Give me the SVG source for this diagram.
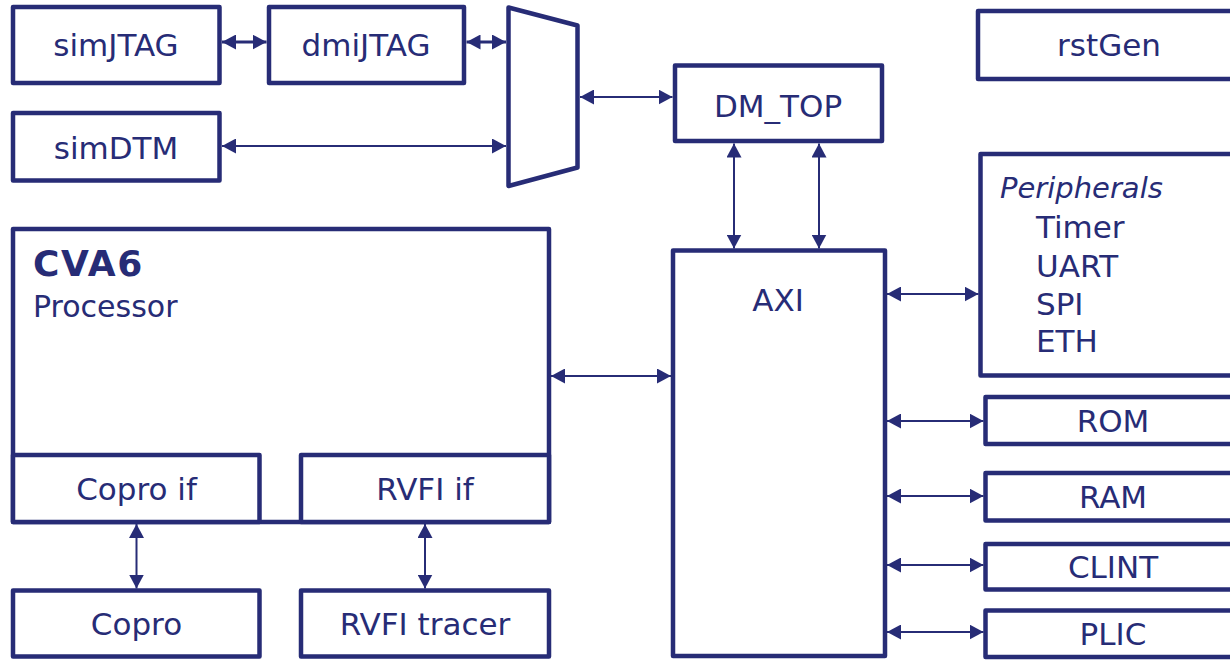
<svg xmlns="http://www.w3.org/2000/svg" width="1230" height="662" viewBox="0 0 1230 662">
<style>
.box{fill:#fff;stroke:#272c76;stroke-width:4.5;stroke-linejoin:round}
.lbl{font-family:"DejaVu Sans","Liberation Sans",sans-serif;font-size:31px;fill:#272c76;text-anchor:middle}
.lft{font-family:"DejaVu Sans","Liberation Sans",sans-serif;font-size:30px;fill:#272c76}
.ln{stroke:#272c76;stroke-width:2;fill:none;marker-start:url(#ah);marker-end:url(#ah)}
.thick{stroke-width:3}
</style>
<defs>
<marker id="ah" viewBox="0 0 14 15" refX="14" refY="7.5" markerWidth="14" markerHeight="15" markerUnits="userSpaceOnUse" orient="auto-start-reverse">
<path d="M0,0 L14,7.5 L0,15 z" fill="#272c76"/>
</marker>
</defs>
<rect width="1230" height="662" fill="#fff"/>
<g id="connectors">
<line class="ln thick" x1="222" y1="42" x2="266.5" y2="42"/>
<line class="ln thick" x1="466.5" y1="42" x2="506" y2="42"/>
<line class="ln" x1="222" y1="146" x2="506" y2="146"/>
<line class="ln" x1="580" y1="97" x2="672.5" y2="97"/>
<line class="ln" x1="734" y1="143.5" x2="734" y2="248.5"/>
<line class="ln" x1="819" y1="143.5" x2="819" y2="248.5"/>
<line class="ln" x1="551" y1="376" x2="671" y2="376"/>
<line class="ln" x1="136.5" y1="524" x2="136.5" y2="588.5"/>
<line class="ln" x1="425" y1="524" x2="425" y2="588.5"/>
<line class="ln" x1="887" y1="294" x2="978.5" y2="294"/>
<line class="ln" x1="887" y1="421" x2="983.5" y2="421"/>
<line class="ln" x1="887" y1="496" x2="983.5" y2="496"/>
<line class="ln" x1="887" y1="565" x2="983.5" y2="565"/>
<line class="ln" x1="887" y1="632" x2="983.5" y2="632"/>
</g>
<g id="simJTAG"><rect class="box" x="13" y="7" width="206.5" height="76"/><text class="lbl" x="116" y="56">simJTAG</text></g>
<g id="dmiJTAG"><rect class="box" x="269" y="7" width="195" height="76"/><text class="lbl" x="366" y="56">dmiJTAG</text></g>
<g id="simDTM"><rect class="box" x="13" y="113" width="206.5" height="67.5"/><text class="lbl" x="116" y="159">simDTM</text></g>
<g id="mux"><polygon class="box" points="508.5,7.5 577.5,25.5 577.5,167.5 508.5,186"/></g>
<g id="DM_TOP"><rect class="box" x="675" y="65.5" width="207" height="75.5"/><text class="lbl" x="778" y="117">DM_TOP</text></g>
<g id="rstGen"><rect class="box" x="978" y="11" width="270" height="68"/><text class="lbl" x="1109" y="56">rstGen</text></g>
<g id="Peripherals"><rect class="box" x="980.5" y="154" width="270" height="221.5"/>
<text class="lft" x="1000" y="198" style="font-size:29px;font-style:italic">Peripherals</text>
<text class="lft" x="1036" y="238" style="font-size:31px">Timer</text>
<text class="lft" x="1036" y="277" style="font-size:31px">UART</text>
<text class="lft" x="1036" y="315" style="font-size:31px">SPI</text>
<text class="lft" x="1036" y="352" style="font-size:31px">ETH</text>
</g>
<g id="AXI"><rect class="box" x="673" y="250.5" width="212" height="405.5"/><text class="lbl" x="778" y="311">AXI</text></g>
<g id="ROM"><rect class="box" x="985.5" y="397" width="260" height="47"/><text class="lbl" x="1113" y="432">ROM</text></g>
<g id="RAM"><rect class="box" x="985.5" y="473" width="260" height="47.5"/><text class="lbl" x="1113" y="508">RAM</text></g>
<g id="CLINT"><rect class="box" x="985.5" y="544" width="260" height="45.5"/><text class="lbl" x="1113" y="578">CLINT</text></g>
<g id="PLIC"><rect class="box" x="985.5" y="610.5" width="260" height="46.5"/><text class="lbl" x="1113" y="645">PLIC</text></g>
<g id="CVA6"><rect class="box" x="13" y="229" width="536" height="293"/>
<text class="lft" x="33" y="276" style="font-size:36px;font-weight:bold;letter-spacing:1.5px">CVA6</text>
<text class="lft" x="33" y="317">Processor</text>
</g>
<g id="CoproIf"><rect class="box" x="13" y="455" width="246.5" height="67"/><text class="lbl" x="136.5" y="500">Copro if</text></g>
<g id="RVFIIf"><rect class="box" x="301" y="455" width="248" height="67"/><text class="lbl" x="425" y="500">RVFI if</text></g>
<g id="Copro"><rect class="box" x="13" y="590.5" width="246.5" height="66"/><text class="lbl" x="136.5" y="635">Copro</text></g>
<g id="RVFItracer"><rect class="box" x="301" y="590.5" width="248" height="66"/><text class="lbl" x="425" y="635">RVFI tracer</text></g>
</svg>
